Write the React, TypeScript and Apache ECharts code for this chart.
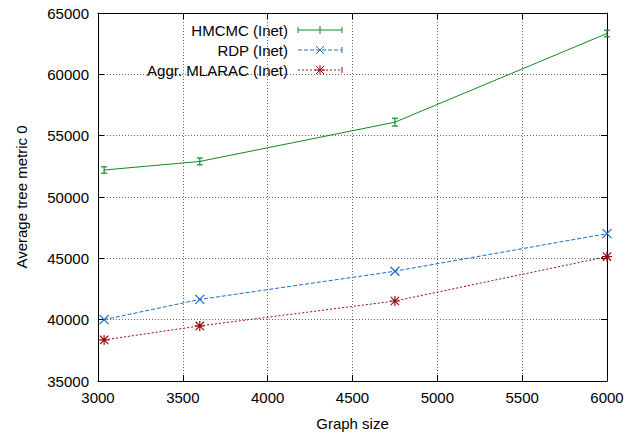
import React, { useEffect, useRef } from "react";
import * as echarts from "echarts";

const graphSizes = [3036, 3600, 4750, 6000];
const hmcmc = [52200, 52900, 56100, 63330];
const hmcmcErr = [260, 280, 320, 270];
const rdp = [40000, 41650, 43950, 47010];
const mlarac = [38350, 39490, 41520, 45140];

const seriesNames = ["HMCMC (Inet)", "RDP (Inet)", "Aggr. MLARAC (Inet)"];
const GREEN = "#128a22";
const BLUE = "#1c6cc0";
const RED = "#980d0d";
const FONT = "Liberation Sans";

const xSym = "path://M0,0L10,10M10,0L0,10";
const starSym = "path://M0,0L10,10M10,0L0,10M5,-1L5,11M-1,5L11,5";

export default function App() {
  const ref = useRef<HTMLDivElement>(null);
  useEffect(() => {
    const chart = echarts.init(ref.current!, null, { renderer: "svg" });
    const pairs = (ys: number[]) => graphSizes.map((x, i) => [x, ys[i]]);
    const plain = (v: number) => String(v);
    const axisCommon = {
      type: "value" as const,
      axisLine: { show: true, lineStyle: { color: "#000", width: 1 } },
      axisTick: { show: true, inside: true, length: 6, lineStyle: { color: "#000" } },
    };
    const legendY = [30, 50, 70];
    const lx0 = 298, lx1 = 342, lmid = 320;
    const lineEl = (x1: number, y1: number, x2: number, y2: number, stroke: string, dash?: number[]) => ({
      type: "line",
      shape: { x1, y1, x2, y2 },
      style: { stroke, lineWidth: 1, lineDash: dash },
      z: 100,
    });
    const graphics: any[] = [];
    seriesNames.forEach((n, i) => {
      graphics.push({
        type: "text",
        x: 288,
        y: legendY[i],
        style: { text: n, font: `15px "${FONT}"`, fill: "#000", align: "right", verticalAlign: "middle", textAlign: "right", textVerticalAlign: "middle" },
        z: 100,
      });
    });
    // HMCMC legend sample
    graphics.push(lineEl(lx0, 30, lx1, 30, GREEN));
    graphics.push(lineEl(lx0, 27, lx0, 33, GREEN));
    graphics.push(lineEl(lx1, 27, lx1, 33, GREEN));
    graphics.push(lineEl(lmid, 26, lmid, 34, GREEN));
    // RDP legend sample
    graphics.push(lineEl(lx0, 50, lx1, 50, BLUE, [4, 2]));
    graphics.push(lineEl(lx1, 47, lx1, 53, BLUE));
    graphics.push(lineEl(lmid - 4, 46, lmid + 4, 54, BLUE));
    graphics.push(lineEl(lmid + 4, 46, lmid - 4, 54, BLUE));
    // MLARAC legend sample
    graphics.push(lineEl(lx0, 70, lx1, 70, RED, [2, 2]));
    graphics.push(lineEl(lx1, 67, lx1, 73, RED));
    graphics.push(lineEl(lmid - 4, 66, lmid + 4, 74, RED));
    graphics.push(lineEl(lmid + 4, 66, lmid - 4, 74, RED));
    graphics.push(lineEl(lmid, 65, lmid, 75, RED));
    graphics.push(lineEl(lmid - 5, 70, lmid + 5, 70, RED));

    chart.setOption({
      animation: false,
      textStyle: { fontFamily: FONT },
      grid: { left: 98, right: 22, top: 13, bottom: 49, containLabel: false },
      xAxis: [
        {
          ...axisCommon,
          position: "bottom",
          min: 3000,
          max: 6000,
          interval: 500,
          name: "Graph size",
          nameLocation: "middle",
          nameGap: 35,
          nameTextStyle: { fontSize: 15, color: "#000", fontFamily: FONT },
          axisLabel: { show: true, margin: 9, fontSize: 15, color: "#000", fontFamily: FONT, formatter: plain },
          splitLine: { show: true, lineStyle: { color: "#666", type: [1, 2], width: 1 } },
        },
        {
          ...axisCommon,
          position: "top",
          min: 3000,
          max: 6000,
          interval: 500,
          axisLabel: { show: false },
          splitLine: { show: false },
        },
      ],
      yAxis: [
        {
          ...axisCommon,
          position: "left",
          min: 35000,
          max: 65000,
          interval: 5000,
          name: "Average tree metric 0",
          nameLocation: "middle",
          nameGap: 69,
          nameRotate: 90,
          nameTextStyle: { fontSize: 15, color: "#000", fontFamily: FONT },
          axisLabel: { show: true, margin: 9, fontSize: 15, color: "#000", fontFamily: FONT, formatter: plain },
          splitLine: { show: true, lineStyle: { color: "#666", type: [1, 2], width: 1 } },
        },
        {
          ...axisCommon,
          position: "right",
          min: 35000,
          max: 65000,
          interval: 5000,
          axisLabel: { show: false },
          splitLine: { show: false },
        },
      ],
      series: [
        {
          name: seriesNames[0],
          type: "line",
          data: pairs(hmcmc),
          symbol: "none",
          lineStyle: { color: GREEN, width: 1 },
          itemStyle: { color: GREEN },
          z: 5,
        },
        {
          name: seriesNames[0] + " err",
          type: "custom",
          data: graphSizes.map((x, i) => [x, hmcmc[i], hmcmcErr[i]]),
          z: 6,
          renderItem: (params: any, api: any) => {
            const x = api.value(0);
            const y = api.value(1);
            const e = api.value(2);
            const lo = api.coord([x, y - e]);
            const hi = api.coord([x, y + e]);
            const st = { stroke: GREEN, lineWidth: 1.2 };
            return {
              type: "group",
              children: [
                { type: "line", shape: { x1: lo[0], y1: lo[1], x2: hi[0], y2: hi[1] }, style: st },
                { type: "line", shape: { x1: lo[0] - 3, y1: lo[1], x2: lo[0] + 3, y2: lo[1] }, style: st },
                { type: "line", shape: { x1: hi[0] - 3, y1: hi[1], x2: hi[0] + 3, y2: hi[1] }, style: st },
              ],
            };
          },
        },
        {
          name: seriesNames[1],
          type: "line",
          data: pairs(rdp),
          symbol: xSym,
          symbolSize: 9,
          lineStyle: { color: BLUE, width: 1, type: [4, 2] },
          itemStyle: { color: "transparent", borderColor: BLUE, borderWidth: 1.2 },
          z: 5,
        },
        {
          name: seriesNames[2],
          type: "line",
          data: pairs(mlarac),
          symbol: starSym,
          symbolSize: 10,
          lineStyle: { color: RED, width: 1, type: [2, 2] },
          itemStyle: { color: "transparent", borderColor: RED, borderWidth: 1.2 },
          z: 5,
        },
      ],
      graphic: graphics,
    });
    return () => chart.dispose();
  }, []);
  return <div ref={ref} style={{ position: "absolute", left: 0, top: 0, width: 629, height: 436, background: "#fff" }} />;
}
